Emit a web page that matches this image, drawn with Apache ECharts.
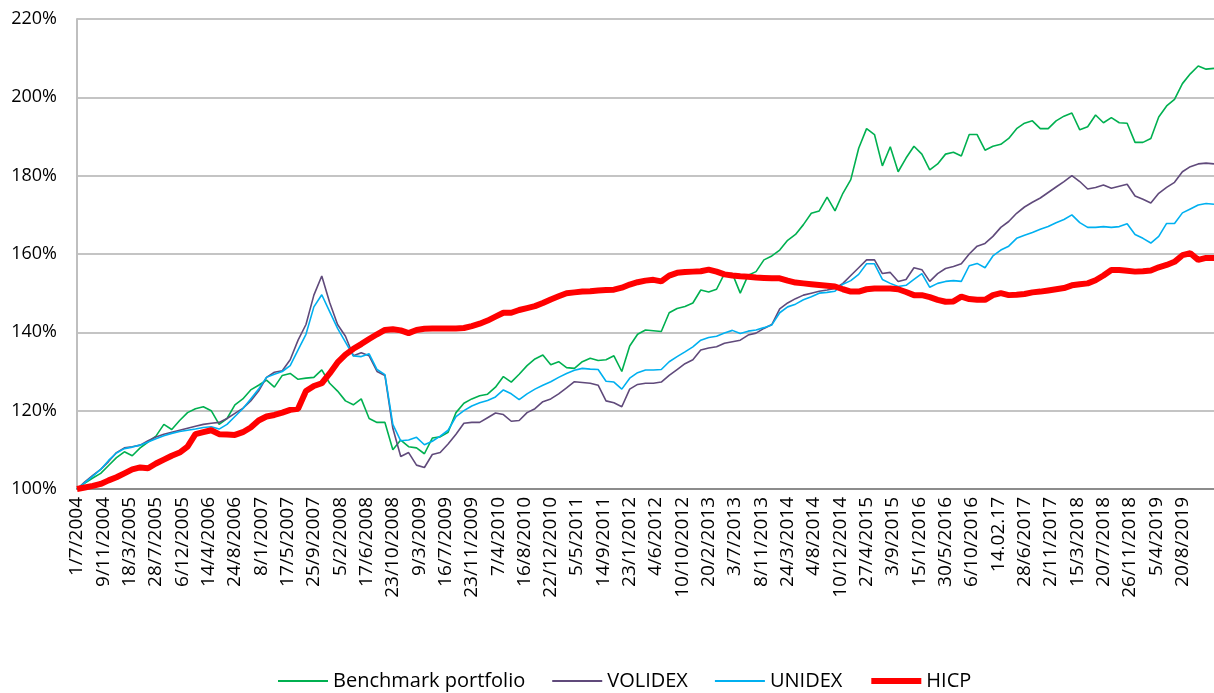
<!DOCTYPE html>
<html>
<head>
<meta charset="utf-8">
<script src="https://cdn.jsdelivr.net/npm/echarts@6/dist/echarts.min.js"></script>
<style>
html,body{margin:0;padding:0;background:#fff;}
#chart{width:1214px;height:693px;}
</style>
</head>
<body>
<div id="chart"></div>
<script>
// Tick labels on the x axis
const tickLabels = ["1/7/2004","9/11/2004","18/3/2005","28/7/2005","6/12/2005","14/4/2006","24/8/2006","8/1/2007","17/5/2007","25/9/2007","5/2/2008","17/6/2008","23/10/2008","9/3/2009","16/7/2009","23/11/2009","7/4/2010","16/8/2010","22/12/2010","5/5/2011","14/9/2011","23/1/2012","4/6/2012","10/10/2012","20/2/2013","3/7/2013","8/11/2013","24/3/2014","4/8/2014","10/12/2014","27/4/2015","3/9/2015","15/1/2016","30/5/2016","6/10/2016","14.02.17","28/6/2017","2/11/2017","15/3/2018","20/7/2018","26/11/2018","5/4/2019","20/8/2019"];

const benchmark = [100,101.5,102.8,104,106,108,109.5,108.5,110.5,112,113.5,116.5,115.2,117.5,119.5,120.5,121,120,116.5,118,121.5,123,125.3,126.5,127.8,126,129,129.5,128,128.3,128.5,130.4,127,125,122.5,121.5,123,118,117,117,110,112.5,110.8,110.5,109,113,113.3,114.5,119.5,121.9,123,123.8,124.2,126,128.7,127.3,129.3,131.5,133.2,134.2,131.7,132.5,131,130.8,132.5,133.4,132.8,133,134,130,136.5,139.5,140.6,140.4,140.2,145,146.1,146.6,147.5,150.8,150.3,151,155,155,150,154.6,155.5,158.5,159.5,161,163.5,165,167.5,170.4,171,174.5,171,175.5,179,187,192,190.5,182.5,187.4,181,184.5,187.5,185.5,181.5,183,185.5,186,185,190.5,190.5,186.5,187.5,188,189.5,192,193.4,194,192,192,194,195.2,196,191.7,192.5,195.5,193.5,194.8,193.5,193.4,188.5,188.5,189.5,195,197.8,199.5,203.5,206,208,207.2,207.4];

const volidex = [100,101.8,103.5,105,107,109.3,110.5,110.8,111.2,112.3,113.3,114,114.5,115,115.5,116,116.5,116.8,117,118,119.3,120.6,122.5,125,128.5,129.8,130.2,133,138,142,149.5,154.4,147.6,142,139,134,134.8,134,130,129,115.5,108.3,109.3,106.1,105.5,108.8,109.3,111.5,114,116.8,117,117,118.2,119.4,119,117.3,117.5,119.5,120.5,122.3,123,124.3,125.8,127.4,127.2,127,126.5,122.5,122,121,125.5,126.7,127,127,127.3,129,130.5,132,133,135.5,136,136.3,137.2,137.6,138,139.3,139.8,141,142,146,147.5,148.6,149.5,150,150.5,150.8,151.2,152.5,154.5,156.5,158.5,158.5,155,155.3,153,153.5,156.5,156,153,155,156.3,156.8,157.5,160,162,162.7,164.5,166.8,168.3,170.4,172,173.2,174.3,175.7,177.1,178.5,180,178.5,176.6,177,177.6,176.8,177.3,177.8,174.8,174,173,175.5,177,178.3,181,182.3,183,183.2,183];

const unidex = [100,101.6,103.3,105,107.3,109.2,110.3,110.7,111.2,112,112.8,113.6,114.2,114.7,115,115.3,115.7,115.9,115.3,116.5,118.5,120.5,123,125.5,128.5,129.3,130,131.5,135.5,139.5,146.5,149.6,145.3,141,137.5,134,133.8,134.5,130.5,129.2,116.5,112.3,112.5,113.2,111.3,112.2,113.5,115,118.5,120,121.2,122,122.6,123.5,125.3,124.3,122.8,124.3,125.5,126.5,127.4,128.5,129.5,130.3,130.8,130.6,130.5,127.5,127.3,125.5,128.3,129.7,130.4,130.4,130.5,132.5,133.8,135,136.3,138,138.7,139,139.8,140.5,139.7,140.3,140.6,141.2,141.9,145,146.5,147.2,148.3,149.1,150,150.2,150.5,152.3,153.2,154.8,157.5,157.5,153.5,152.5,151.7,152,153.5,155,151.5,152.5,153,153.2,153,157,157.6,156.5,159.5,161,162,164,164.8,165.5,166.3,167,168,168.8,170,168,166.8,166.8,167,166.8,167,167.7,165,164,162.8,164.5,167.8,167.8,170.5,171.5,172.5,172.9,172.7];

const hicp = [100,100.4,100.8,101.3,102.2,103,104,105,105.5,105.3,106.5,107.5,108.5,109.3,110.8,114,114.5,115,114,113.9,113.8,114.5,115.7,117.5,118.5,118.9,119.5,120.2,120.5,125,126.3,127,129.5,132.3,134.3,135.8,137,138.3,139.5,140.6,140.8,140.5,139.8,140.6,140.9,141,141,141,141,141.1,141.6,142.2,143,144,145,145,145.7,146.2,146.7,147.5,148.4,149.2,150,150.2,150.4,150.5,150.7,150.8,150.9,151.4,152.2,152.8,153.2,153.4,153,154.5,155.2,155.4,155.5,155.6,156,155.5,154.8,154.5,154.3,154.2,154,153.9,153.8,153.8,153.2,152.7,152.5,152.3,152.1,151.9,151.7,151,150.4,150.4,151,151.2,151.2,151.2,151,150.3,149.5,149.5,149,148.3,147.8,147.9,149.1,148.5,148.3,148.3,149.5,150,149.5,149.6,149.8,150.2,150.4,150.7,151,151.3,152,152.3,152.5,153.3,154.5,155.9,155.9,155.7,155.5,155.6,155.8,156.6,157.2,158,159.7,160.2,158.5,159,159];

const seriesNames = ["Benchmark portfolio","VOLIDEX","UNIDEX","HICP"];
const LABEL_STEP = 10 / 3;           // data points between two tick labels
const LAST = benchmark.length - 1;

const chart = echarts.init(document.getElementById('chart'), null, {renderer:'canvas'});
const FONT = "'Open Sans', 'Liberation Sans', sans-serif";

function pairs(arr) { return arr.map((v, i) => [i, v]); }
function lineSeries(name, data, color, width, z) {
  return {
    name, type:'line', data:pairs(data), symbol:'none', showSymbol:false, z,
    lineStyle:{color, width}, itemStyle:{color},
    emphasis:{disabled:true}, animation:false
  };
}

chart.setOption({
  animation:false,
  grid:{left:77, right:0, top:19, bottom:204, containLabel:false},
  xAxis:{
    type:'value', min:0, max:LAST, interval:LABEL_STEP,
    axisLine:{show:true, onZero:false, lineStyle:{color:'#8c8c8c', width:2}},
    axisTick:{show:false},
    splitLine:{show:false},
    axisLabel:{
      rotate:90, margin:8, color:'#000', fontSize:19, fontFamily:FONT,
      showMaxLabel:false, showMinLabel:true, hideOverlap:false,
      formatter:(v) => {
        const k = Math.round(v / LABEL_STEP);
        return (Math.abs(v - k * LABEL_STEP) < 0.05 && k < tickLabels.length) ? tickLabels[k] : '';
      }
    }
  },
  yAxis:{
    type:'value', min:100, max:220, interval:20,
    axisLine:{show:true, lineStyle:{color:'#bfbfbf', width:2}},
    axisTick:{show:false},
    splitLine:{show:true, lineStyle:{color:'#c4c4c4', width:2}},
    axisLabel:{formatter:'{value}%', color:'#000', fontSize:18, fontFamily:FONT, margin:20}
  },
  legend:{
    left:272, top:666, itemWidth:50, itemHeight:12, itemGap:26,
    itemStyle:{opacity:0},
    textStyle:{color:'#000', fontSize:20, fontFamily:FONT},
    data:[
      {name:seriesNames[0], lineStyle:{width:2}},
      {name:seriesNames[1], lineStyle:{width:2}},
      {name:seriesNames[2], lineStyle:{width:2}},
      {name:seriesNames[3], lineStyle:{width:6}}
    ]
  },
  series:[
    lineSeries(seriesNames[0], benchmark, '#00B050', 1.6, 2),
    lineSeries(seriesNames[1], volidex, '#604A7B', 1.6, 3),
    lineSeries(seriesNames[2], unidex, '#00B0F0', 1.6, 4),
    lineSeries(seriesNames[3], hicp, '#FF0000', 6, 5)
  ]
});
</script>
</body>
</html>
